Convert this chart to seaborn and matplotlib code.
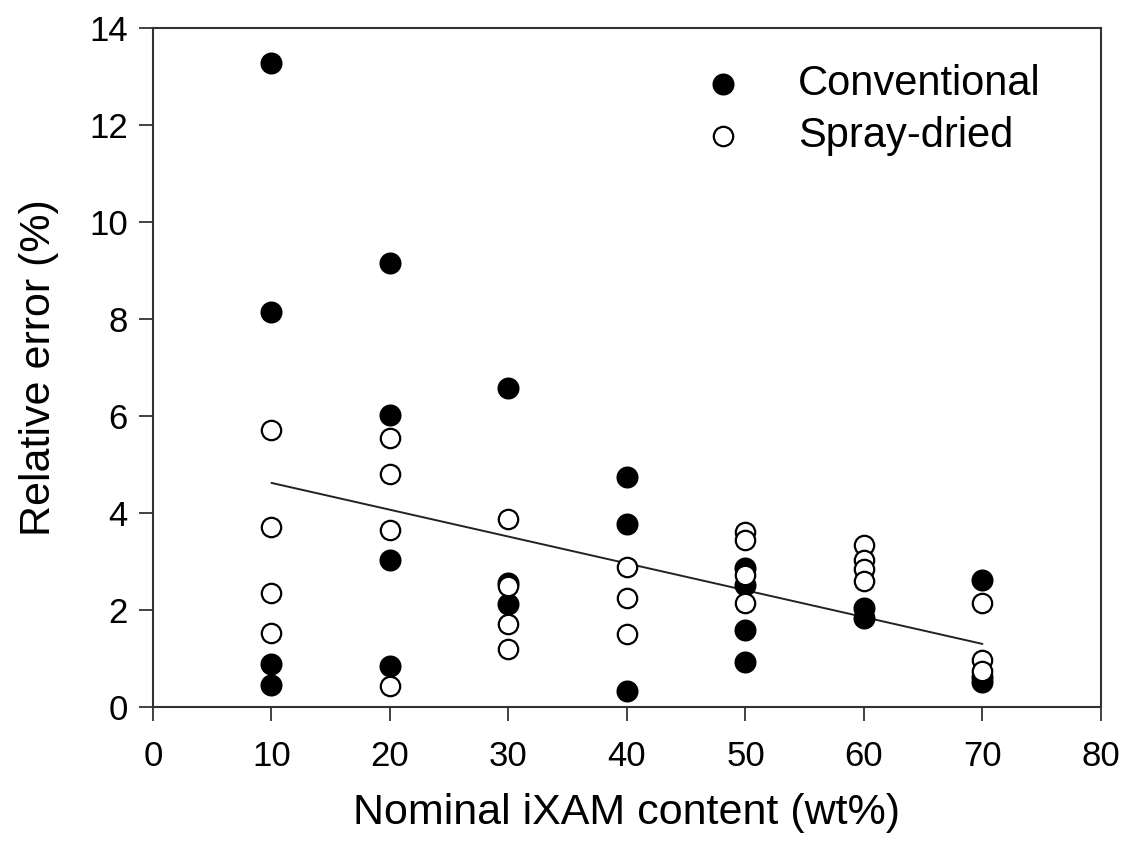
import matplotlib
matplotlib.use("Agg")
import matplotlib.pyplot as plt
import seaborn as sns
import pandas as pd

# Relative error of conventional and spray-dried batches by nominal content
conv_x = [10, 10, 10, 10, 20, 20, 20, 20, 30, 30, 30, 40, 40, 40,
          50, 50, 50, 50, 60, 60, 70, 70, 70]
conv_y = [13.28, 8.15, 0.88, 0.45, 9.15, 6.02, 3.03, 0.85, 6.58, 2.55, 2.12,
          4.75, 3.77, 0.33, 2.87, 2.52, 1.58, 0.93, 2.05, 1.83, 2.62, 0.62, 0.52]

spray_x = [10, 10, 10, 10, 20, 20, 20, 20, 30, 30, 30, 30, 40, 40, 40,
           50, 50, 50, 50, 60, 60, 60, 60, 70, 70, 70]
spray_y = [5.72, 3.72, 2.35, 1.53, 5.55, 4.80, 3.65, 0.43, 3.88, 2.50, 1.72, 1.20,
           2.88, 2.25, 1.50, 3.60, 3.45, 2.72, 2.15, 3.33, 3.03, 2.85, 2.60,
           2.15, 0.97, 0.75]

# Linear trend line end points
trend_x = [10, 70]
trend_y = [4.62, 1.30]

x_ticks = [0, 10, 20, 30, 40, 50, 60, 70, 80]
y_ticks = [0, 2, 4, 6, 8, 10, 12, 14]

sns.set_style("ticks")
plt.rcParams["font.family"] = ["Liberation Sans", "DejaVu Sans"]
plt.rcParams["text.color"] = "black"
plt.rcParams["axes.labelcolor"] = "black"
plt.rcParams["xtick.color"] = "black"
plt.rcParams["ytick.color"] = "black"

fig = plt.figure(figsize=(11.23, 8.48), dpi=100)
ax = fig.add_axes([0.1362, 0.1663, 0.8442, 0.8007])

conv = pd.DataFrame({"x": conv_x, "y": conv_y})
spray = pd.DataFrame({"x": spray_x, "y": spray_y})
trend = pd.DataFrame({"x": trend_x, "y": trend_y})

sns.lineplot(data=trend, x="x", y="y", ax=ax, color="#222222", linewidth=1.4,
             zorder=2)
sns.scatterplot(data=conv, x="x", y="y", ax=ax, s=215, color="black",
                edgecolor="black", linewidth=1.2, label="Conventional", zorder=3)
sns.scatterplot(data=spray, x="x", y="y", ax=ax, s=195, facecolor="white",
                edgecolor="black", linewidth=1.6, label="Spray-dried", zorder=4)

ax.set_xlim(0, 80)
ax.set_ylim(0, 14)
ax.set_xticks(x_ticks)
ax.set_yticks(y_ticks)
ax.tick_params(axis="both", direction="out", length=10, width=1.3,
               labelsize=25, color="#333333")
ax.tick_params(axis="x", pad=14)
ax.tick_params(axis="y", pad=8)
for sp in ax.spines.values():
    sp.set_linewidth(1.5)
    sp.set_color("#333333")

ax.set_xlabel("Nominal iXAM content (wt%)", fontsize=31, labelpad=14)
ax.set_ylabel("Relative error (%)", fontsize=31, labelpad=22)

leg = ax.legend(loc="upper left", bbox_to_anchor=(0.540, 0.972), frameon=False,
                fontsize=30, handletextpad=0.8, labelspacing=0.3,
                markerscale=1.0, borderaxespad=0)

fig.savefig("out.png", dpi=100, facecolor="white")
